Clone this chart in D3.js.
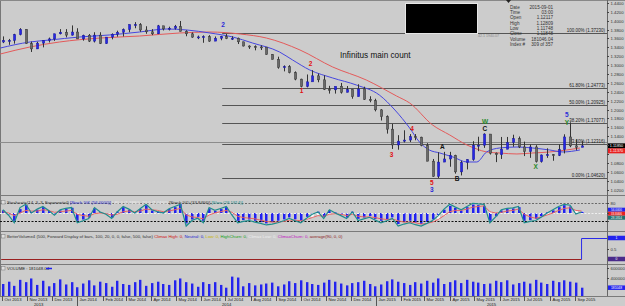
<!DOCTYPE html>
<meta charset="utf-8">
<style>
  body { margin: 0; background: #cccccc; }
  svg { display: block; font-family: "Liberation Sans", Arial, sans-serif; }
</style>
<svg width="625" height="306"></svg>
<script src="https://d3js.org/d3.v7.min.js"></script>
<script>

// weekly EUR/USD bars, one per week starting Monday firstWeek
var firstWeek = "2013-09-30";
var firstOpen = 1.3520;

var highs = [1.3646,1.3590,1.3705,1.3832,1.3806,1.3530,1.3525,1.3565,1.3620,1.3705,1.3810,1.3810,1.3893,1.3830,
  1.3685,1.3700,1.3740,1.3740,1.3620,1.3715,1.3775,1.3825,1.3915,1.3967,1.3945,1.3875,1.3810,1.3905,1.3865,1.3865,1.3905,
  1.3993,1.3785,1.3735,1.3665,1.3670,1.3675,1.3645,1.3660,1.3700,1.3650,1.3620,1.3525,1.3445,1.3445,1.3445,1.3395,1.3245,
  1.3190,1.2995,1.3000,1.2860,1.2695,1.2790,1.2887,1.2810,1.2770,1.2535,1.2510,1.2600,1.2530,1.2455,1.2570,1.2515,1.2300,1.2245,
  1.2010,1.1870,1.1680,1.1425,1.1535,1.1450,1.1450,1.1390,1.1245,1.0890,1.1040,1.1050,1.1050,1.0985,1.0850,1.0885,1.1290,
  1.1390,1.1467,1.1440,1.1035,1.1385,1.1385,1.1435,1.1395,1.1280,1.1215,1.1200,1.0990,1.1130,1.1000,1.1215,1.1445,1.1714,1.1330,1.1290];
var lows = [1.3495,1.3457,1.3483,1.3670,1.3480,1.3296,1.3365,1.3400,1.3510,1.3545,1.3690,1.3625,1.3665,1.3590,
  1.3550,1.3520,1.3510,1.3475,1.3480,1.3580,1.3640,1.3645,1.3740,1.3830,1.3750,1.3705,1.3675,1.3700,1.3780,1.3780,1.3800,
  1.3760,1.3650,1.3615,1.3585,1.3503,1.3525,1.3545,1.3560,1.3585,1.3565,1.3475,1.3420,1.3365,1.3333,1.3340,1.3235,1.3130,
  1.2920,1.2860,1.2815,1.2660,1.2500,1.2500,1.2660,1.2615,1.2440,1.2360,1.2360,1.2360,1.2390,1.2245,1.2300,1.2220,1.2165,1.1960,
  1.1755,1.1460,1.1115,1.1098,1.1260,1.1270,1.1310,1.1175,1.0840,1.0490,1.0462,1.0835,1.0715,1.0560,1.0520,1.0655,1.0850,
  1.1065,1.1140,1.0990,1.0819,1.0890,1.1110,1.1165,1.1135,1.0955,1.0915,1.0810,1.0808,1.0915,1.0850,1.0955,1.1015,1.1155,1.1085,1.1170];
var closes = [1.3555,1.3555,1.3685,1.3803,1.3485,1.3365,1.3495,1.3555,1.3590,1.3705,1.3740,1.3675,1.3745,1.3590,
  1.3670,1.3540,1.3675,1.3485,1.3630,1.3695,1.3740,1.3800,1.3910,1.3910,1.3790,1.3750,1.3705,1.3885,1.3815,1.3830,1.3870,
  1.3760,1.3705,1.3630,1.3635,1.3640,1.3540,1.3605,1.3645,1.3595,1.3605,1.3525,1.3430,1.3415,1.3410,1.3405,1.3240,1.3130,
  1.2950,1.2965,1.2830,1.2685,1.2520,1.2625,1.2760,1.2670,1.2455,1.2445,1.2525,1.2390,1.2450,1.2290,1.2465,1.2230,1.2200,1.1995,
  1.1840,1.1560,1.1205,1.1290,1.1315,1.1390,1.1380,1.1195,1.0840,1.0500,1.0820,1.0890,1.0970,1.0600,1.0810,1.0875,1.1200,
  1.1200,1.1450,1.1020,1.0985,1.1110,1.1260,1.1345,1.1160,1.1055,1.1160,1.0830,1.0980,1.0985,1.0970,1.1100,1.1385,1.1185,1.1150,1.1185];
// weekly volume, thousands
var volumes = [260,310,220,350,300,380,240,330,210,280,360,250,300,190,
  270,340,230,310,280,200,330,260,240,300,350,220,280,310,260,240,340,380,300,270,
  200,300,260,300,240,180,420,400,210,280,230,250,270,290,210,250,320,280,340,300,
  260,240,290,350,310,270,230,280,300,330,260,210,
  250,320,360,310,280,240,300,270,330,290,380,260,300,340,280,350,310,290,260,270,
  330,300,340,250,280,310,270,350,290,260,330,300,340,310,290,180];

// moving averages
var fastDates = ["2013-09-29","2013-11-04","2013-11-28","2014-01-04","2014-02-09","2014-03-18","2014-04-20","2014-05-15",
  "2014-06-12","2014-07-10","2014-08-03","2014-09-05","2014-09-21","2014-10-12","2014-11-09","2014-12-08","2015-01-05",
  "2015-01-24","2015-02-11","2015-02-23","2015-03-07","2015-03-20","2015-04-05","2015-04-22","2015-05-04","2015-05-16",
  "2015-06-01","2015-06-22","2015-07-11","2015-08-01","2015-08-17","2015-09-07"];
var fastVals = [1.3385,1.3520,1.3565,1.3633,1.3678,1.3745,1.3813,1.3790,1.3723,1.3633,1.3498,1.3296,1.3116,1.2891,1.2711,
  1.2553,1.2328,1.1991,1.1586,1.1271,1.1092,1.1024,1.0934,1.0822,1.0822,1.1047,1.1137,1.1159,1.1137,1.1092,1.1047,1.1092];
var slowDates = ["2013-09-29","2013-11-04","2013-12-10","2014-01-29","2014-03-18","2014-05-06","2014-06-12","2014-07-19",
  "2014-08-20","2014-09-30","2014-11-09","2014-12-20","2015-01-26","2015-02-11","2015-03-11","2015-04-01","2015-04-22",
  "2015-05-04","2015-05-16","2015-06-01","2015-06-22","2015-07-11","2015-08-01","2015-08-22","2015-09-07"];
var slowVals = [1.3251,1.3408,1.3520,1.3610,1.3655,1.3723,1.3745,1.3700,1.3610,1.3341,1.2958,1.2666,1.2306,1.2149,1.1654,
  1.1429,1.1204,1.1114,1.1047,1.1024,1.1002,1.1024,1.1047,1.1092,1.1137];

// fibonacci retracement
var fibStart = "2014-06-27", fibLow = 1.0462, fibHigh = 1.3723;
var fibLevels = [0, 23.6, 38.2, 50, 61.8, 100];
var hLinePrice = 1.1272;

var waveLabels = [
  {date: "2014-06-28", price: 1.3905, text: "2", color: "#2b2bd8"},
  {date: "2014-10-02", price: 1.2418, text: "1", color: "#e01010"},
  {date: "2014-10-13", price: 1.3026, text: "2", color: "#e01010"},
  {date: "2015-01-20", price: 1.0979, text: "3", color: "#e01010"},
  {date: "2015-02-14", price: 1.1560, text: "4", color: "#e01010"},
  {date: "2015-03-10", price: 1.0349, text: "5", color: "#e01010"},
  {date: "2015-03-10", price: 1.0192, text: "3", color: "#2b2bd8"},
  {date: "2015-03-23", price: 1.1159, text: "A", color: "#111111"},
  {date: "2015-04-10", price: 1.0452, text: "B", color: "#111111"},
  {date: "2015-05-14", price: 1.1725, text: "W", color: "#2a8a2a"},
  {date: "2015-05-14", price: 1.1565, text: "C", color: "#111111"},
  {date: "2015-07-15", price: 1.0709, text: "X", color: "#2a8a2a"},
  {date: "2015-08-22", price: 1.1890, text: "5", color: "#2b2bd8"},
  {date: "2015-08-22", price: 1.1715, text: "Y", color: "#2a8a2a"}
];

// stochastic-style oscillator, weekly
var oscTeal = [25,-17,-75,42,67,0,30,50,20,-17, 25,35,42,-75,-60,-42,42,8,-10,-42, 10,50,30,0,35,67,25,10,0,33,
  50,67,-100,-58,-40,-75,42,20,35,50, -17,-75,-65,-58,-70,-80,-92,-85,-75,-60, -42,-60,-75,-40,-10,8,-42,25,0,-20,
  -42,8,-58,-45,-33,-55,-75,-60,-42,-100, -85,-75,-90,-100,-80,-58,-20,30,67,45, 25,50,75,70,67,-75,-30,25,35,40,
  50,-75,-65,-58,-30,0,25,50,67,60, -8,8];
var oscRed = [10,0,-20,0,20,15,15,25,20,5, 10,15,20,-10,-20,-25,-5,0,-5,-15, -10,10,15,10,15,30,25,20,10,15,
  25,35,-15,-30,-35,-45,-15,0,10,20, 5,-25,-35,-40,-45,-55,-65,-70,-70,-65, -55,-55,-60,-50,-35,-20,-25,-10,-5,-10,
  -20,-10,-25,-30,-30,-35,-45,-50,-45,-60, -70,-70,-75,-85,-80,-70,-50,-20,10,20, 20,30,45,50,55,10,0,5,15,20,
  30,-10,-30,-40,-30,-15,0,20,35,40, 20,15];
var oscHist = [20,-10,-60,30,60,10,25,45,15,-10, 20,30,40,-60,-50,-35,35,5,-5,-35, 10,45,25,5,30,60,20,10,5,30,
  45,70,-80,-50,-30,-60,35,15,30,45, -10,-60,-55,-50,-60,-70,-80,-70,-60,-50, -35,-50,-60,-30,-5,10,-30,20,5,-15,
  -35,10,-45,-35,-25,-45,-60,-50,-35,-85, -70,-60,-75,-85,-70,-50,-15,25,55,40, 20,45,65,60,55,-60,-25,20,30,35,
  45,-60,-55,-45,-25,5,20,45,60,50, -5,10];
var oscLevels = [80, 0, -60];

// better volume panel
var bvDates = ["2013-09-30", "2015-09-09"], bvAverage = [0, 0];
var bvSpikeDates = ["2015-09-09", "2015-09-09", "2015-10-12"], bvSpike = [0, 1, 1];

var dataBoxLabels = ["Date", "Time", "Open", "High", "Low", "Close", "Volume", "Index #"];
var dataBoxValues = ["2015-09-01", "03:00", "1.12117", "1.12809", "1.11748", "1.11848", "181046.04", "309 of 357"];


var svg = d3.select("svg"),
    width = +svg.attr("width"),
    height = +svg.attr("height");

var parse = d3.utcParse("%Y-%m-%d");
var plotR = 607;
var mainTop = 1, mainBot = 195, oscTop = 196, oscBot = 231, bvTop = 232, bvBot = 264, volTop = 265, volBot = 296;

var weeks = d3.utcMonday.range(parse(firstWeek), d3.utcDay.offset(parse(firstWeek), 7 * closes.length));
var bars = closes.map(function(c, i) {
  return {d: d3.utcDay.offset(weeks[i], 2), o: i ? closes[i - 1] : firstOpen, h: highs[i], l: lows[i], c: c, v: volumes[i]};
});

var x = d3.scaleUtc().domain([parse("2013-10-01"), parse("2015-09-01")]).range([2, 575]);
var y = d3.scaleLinear().domain([1.0192, 1.4465]).range([190, 0]);
var yO = d3.scaleLinear().domain([-100, 100]).range([226, 200]);
var yB = d3.scaleLinear().domain([0, 1]).range([259, 238]);
var yV = d3.scaleLinear().domain([0, 650]).range([volBot, 266]);

svg.append("rect").attr("width", width).attr("height", height).attr("fill", "#cccccc");

var defs = svg.append("defs");
[["cMain", mainTop, mainBot], ["cOsc", oscTop, oscBot], ["cBv", bvTop, bvBot], ["cVol", volTop, volBot]].forEach(function(c) {
  defs.append("clipPath").attr("id", c[0]).append("rect")
    .attr("x", 0).attr("y", c[1]).attr("width", plotR).attr("height", c[2] - c[1]);
});

// panel frames
svg.append("line").attr("x1", 0.5).attr("x2", 0.5).attr("y1", 0).attr("y2", volBot).attr("stroke", "#777");
svg.append("line").attr("x1", 0).attr("x2", width).attr("y1", 0.5).attr("y2", 0.5).attr("stroke", "#888");
[mainBot, oscBot, bvBot, volBot].forEach(function(v) {
  svg.append("line").attr("x1", 0).attr("x2", width).attr("y1", v + 0.5).attr("y2", v + 0.5)
    .attr("stroke", "#7a7a7a");
});
svg.append("line").attr("x1", plotR + 0.5).attr("x2", plotR + 0.5).attr("y1", 0).attr("y2", volBot)
  .attr("stroke", "#666");

// ---------- main price panel
var main = svg.append("g").attr("clip-path", "url(#cMain)");

main.append("line").attr("x1", 0).attr("x2", plotR)
  .attr("y1", Math.round(y(hLinePrice)) + 0.5).attr("y2", Math.round(y(hLinePrice)) + 0.5)
  .attr("stroke", "#8c8c8c");

fibLevels.forEach(function(lv) {
  var p = fibLow + (fibHigh - fibLow) * lv / 100;
  var yy = Math.round(y(p)) + 0.5;
  main.append("line").attr("x1", x(parse(fibStart))).attr("x2", plotR).attr("y1", yy).attr("y2", yy)
    .attr("stroke", "#555").attr("stroke-width", 1);
  main.append("text").attr("x", plotR - 2).attr("y", yy - 1.5).attr("text-anchor", "end")
    .attr("font-size", 4.5).attr("fill", "#222")
    .text(d3.format(".2f")(lv) + "% (" + d3.format(".5f")(p) + ")");
});

var maLine = d3.line().curve(d3.curveMonotoneX)
  .x(function(d) { return x(d[0]); }).y(function(d) { return y(d[1]); });
main.append("path").datum(slowDates.map(function(d, i) { return [parse(d), slowVals[i]]; }))
  .attr("d", maLine).attr("fill", "none").attr("stroke", "#e45a5a").attr("stroke-width", 1);
main.append("path").datum(fastDates.map(function(d, i) { return [parse(d), fastVals[i]]; }))
  .attr("d", maLine).attr("fill", "none").attr("stroke", "#4646e0").attr("stroke-width", 1);

var candle = main.selectAll(".bar").data(bars).enter().append("g").attr("class", "bar");
candle.append("line")
  .attr("x1", function(d) { return Math.round(x(d.d)) + 0.5; })
  .attr("x2", function(d) { return Math.round(x(d.d)) + 0.5; })
  .attr("y1", function(d) { return y(d.h); })
  .attr("y2", function(d) { return y(d.l); })
  .attr("stroke", "#333");
candle.append("rect")
  .attr("x", function(d) { return Math.round(x(d.d)) - 0.5; })
  .attr("width", 2.2)
  .attr("y", function(d) { return y(Math.max(d.o, d.c)); })
  .attr("height", function(d) { return Math.max(1, Math.abs(y(d.o) - y(d.c))); })
  .attr("fill", function(d) { return d.c >= d.o ? "#2626e6" : "#6a6a6a"; })
  .attr("stroke", function(d) { return d.c >= d.o ? "#1a1a9a" : "#333"; })
  .attr("stroke-width", 0.5);

main.selectAll(".wave").data(waveLabels).enter().append("text")
  .attr("x", function(d) { return x(parse(d.date)); })
  .attr("y", function(d) { return y(d.price) + 2.3; })
  .attr("text-anchor", "middle").attr("font-size", 6.5).attr("font-weight", "bold")
  .attr("fill", function(d) { return d.color; })
  .text(function(d) { return d.text; });

main.append("text").attr("x", 340).attr("y", 58).attr("font-size", 8.2).attr("fill", "#111")
  .text("Infinitus main count");

// overlay box and data window
svg.append("rect").attr("x", 405.5).attr("y", 3.5).attr("width", 72).attr("height", 30)
  .attr("fill", "#000").attr("stroke", "#e6e6e6");
svg.append("text").attr("x", 478).attr("y", 37).attr("font-size", 3.6).attr("fill", "#8a8a8a").text("42.1 1940.07");
svg.append("path").attr("d", "M506,0 L511,0 L508.5,3 Z").attr("fill", "#222");
dataBoxLabels.forEach(function(l, i) {
  var yy = 8.5 + i * 5.35;
  svg.append("text").attr("x", 510).attr("y", yy).attr("font-size", 4.6).attr("fill", "#333").text(l);
  svg.append("text").attr("x", 553).attr("y", yy).attr("font-size", 4.6).attr("fill", "#333")
    .attr("text-anchor", "end").text(dataBoxValues[i]);
});

// ---------- oscillator panel
var osc = svg.append("g").attr("clip-path", "url(#cOsc)");
osc.selectAll(".sig").data(oscRed).enter().append("rect")
  .attr("x", function(d, i) { return Math.round(x(bars[i].d)) - 1; })
  .attr("width", 3)
  .attr("y", function(d) { return Math.min(yO(0), yO(d)); })
  .attr("height", function(d) { return Math.abs(yO(d) - yO(0)); })
  .attr("fill", "#f4f4f4");
osc.selectAll(".hist").data(oscHist).enter().append("rect")
  .attr("x", function(d, i) { return Math.round(x(bars[i].d)) - 1; })
  .attr("width", 2.6)
  .attr("y", function(d) { return Math.min(yO(0), yO(d)); })
  .attr("height", function(d) { return Math.abs(yO(d) - yO(0)); })
  .attr("fill", "#2222ee");
oscLevels.forEach(function(lv, i) {
  osc.append("line").attr("x1", 0).attr("x2", plotR)
    .attr("y1", Math.round(yO(lv)) + 0.5).attr("y2", Math.round(yO(lv)) + 0.5)
    .attr("stroke", ["#6a6a6a", "#f0f0f0", "#111"][i]).attr("stroke-dasharray", "2,1.5");
});
var oscLine = d3.line().x(function(d, i) { return x(bars[i].d); }).y(function(d) { return yO(d); });
osc.append("path").datum(oscRed).attr("d", oscLine).attr("fill", "none").attr("stroke", "#e86464").attr("stroke-width", 1);
osc.append("path").datum(oscTeal).attr("d", oscLine).attr("fill", "none").attr("stroke", "#1f8c8c").attr("stroke-width", 1.2);

// ---------- better volume panel
var bv = svg.append("g").attr("clip-path", "url(#cBv)");
bv.append("path").datum(bvDates.map(function(d, i) { return [parse(d), bvAverage[i]]; }))
  .attr("d", d3.line().x(function(d) { return x(d[0]); }).y(function(d) { return yB(d[1]) + 0.5; }))
  .attr("fill", "none").attr("stroke", "#9a2020").attr("stroke-width", 1);
bv.append("path").datum(bvSpikeDates.map(function(d, i) { return [parse(d), bvSpike[i]]; }))
  .attr("d", d3.line().x(function(d) { return x(d[0]); }).y(function(d) { return yB(d[1]) + 0.5; }))
  .attr("fill", "none").attr("stroke", "#2a2ae8").attr("stroke-width", 1);

// ---------- volume panel
var vol = svg.append("g").attr("clip-path", "url(#cVol)");
vol.selectAll(".vb").data(bars).enter().append("rect")
  .attr("x", function(d) { return Math.round(x(d.d)) - 1; })
  .attr("width", 2.4)
  .attr("y", function(d) { return yV(d.v); })
  .attr("height", function(d) { return yV(0) - yV(d.v); })
  .attr("fill", "#2424ee");

// ---------- panel headers
function header(yy, parts) {
  svg.append("rect").attr("x", 1.5).attr("y", yy - 3.5).attr("width", 3.5).attr("height", 3.5)
    .attr("fill", "#e0e0e0").attr("stroke", "#777").attr("stroke-width", 0.5);
  var t = svg.append("text").attr("x", 7).attr("y", yy).attr("font-size", 4.3);
  parts.forEach(function(p) { t.append("tspan").attr("fill", p[1]).text(p[0]); });
}
header(204, [["Stochastic(14, 3, 3, Exponential) ", "#333"], ["[Stoch %K (56.0000)] ", "#2222cc"],
  ["| 80.0 (1.3880), 20.0 (1.0460) ", "#eeeeee"], ["[Stoch %D (33.8466)] ", "#333"], ["[Slow (28.1814)]", "#1f8c8c"]]);
header(238, [["BetterVolume4 (500, Forward Display of bars, 100, 20, 0, 0, false, 500, false) ", "#333"],
  ["Climax High: 0, ", "#d01010"], ["Neutral: 0, ", "#2222cc"], ["Low: 0, ", "#c8b400"],
  ["HighChurn: 0, ", "#10a010"], ["Climax Low: 0, ", "#eeeeee"], ["ClimaxChurn: 0, ", "#c010c0"],
  ["average(90, 0, 0)", "#8a1a1a"]]);
header(270, [["VOLUME : 181048.04 ", "#222"]]);
svg.append("line").attr("x1", 46).attr("x2", 52).attr("y1", 268.5).attr("y2", 268.5).attr("stroke", "#2222ee").attr("stroke-width", 1.5);

// ---------- right axis: value boxes first, then ticks that do not collide with them
var boxYs = [];
function boxes(list, h) {
  list.sort(function(a, b) { return a.y - b.y; });
  for (var i = 1; i < list.length; i++) if (list[i].y < list[i - 1].y + h) list[i].y = list[i - 1].y + h;
  list.forEach(function(b) {
    boxYs.push([b.y - h / 2 - 2, b.y + h / 2 + 2]);
    svg.append("rect").attr("x", plotR + 1).attr("y", b.y - h / 2).attr("width", 17).attr("height", h).attr("fill", b.fill);
    svg.append("text").attr("x", plotR + 9.5).attr("y", b.y + h * 0.3).attr("text-anchor", "middle")
      .attr("font-size", h * 0.75).attr("fill", b.text).text(b.label);
  });
}
var last = bars[bars.length - 1];
boxes([{y: y(last.c), fill: "#000", text: "#fff", label: d3.format(".5f")(last.c)},
       {y: y(slowVals[slowVals.length - 1]), fill: "#e82020", text: "#fff", label: d3.format(".5f")(slowVals[slowVals.length - 1])}], 5);
boxes([{y: yO(oscHist[oscHist.length - 1]) - 2, fill: "#2222ee", text: "#fff", label: "56.0000"},
       {y: yO(oscRed[oscRed.length - 1]), fill: "#e82020", text: "#fff", label: "33.8466"},
       {y: yO(oscTeal[oscTeal.length - 1]), fill: "#1f7070", text: "#fff", label: "28.1814"}], 4);
boxes([{y: yB(1), fill: "#2222ee", text: "#fff", label: "1"}], 4.5);
boxes([{y: yB(0), fill: "#4a2a8a", text: "#fff", label: "0"}], 4.5);
boxes([{y: yV(last.v), fill: "#2222ee", text: "#fff", label: "181048"}], 4.5);

var ax = svg.append("g").attr("font-size", 4.3).attr("fill", "#333");
function tick(yy, label) {
  ax.append("line").attr("x1", plotR).attr("x2", plotR + 2).attr("y1", yy + 0.5).attr("y2", yy + 0.5).attr("stroke", "#444");
  var hit = boxYs.some(function(b) { return yy > b[0] && yy < b[1]; });
  if (!hit) ax.append("text").attr("x", plotR + 3.5).attr("y", yy + 1.6).text(label);
}
y.ticks(20).forEach(function(t) { if (y(t) > 1 && y(t) < mainBot - 1) tick(Math.round(y(t)), d3.format(".4f")(t)); });
oscLevels.forEach(function(lv) { tick(Math.round(yO(lv)), lv); });
[0.5].forEach(function(v) { tick(Math.round(yB(v)), v); });
[400, 600].forEach(function(v) { tick(Math.round(yV(v)), v * 1000); });

// ---------- date axis
var months = d3.utcMonth.range(parse("2013-10-01"), parse("2015-10-01"));
var dx = svg.append("g").attr("font-size", 4.2).attr("fill", "#222");
months.forEach(function(m) {
  var xx = Math.round(x(m)) + 0.5;
  dx.append("line").attr("x1", xx).attr("x2", xx).attr("y1", volBot).attr("y2", volBot + 5).attr("stroke", "#555");
  dx.append("text").attr("x", xx + 2).attr("y", volBot + 4.5).text(d3.utcFormat("%b %Y")(m));
});
var x0 = x.invert(0), x1 = x.invert(plotR);
[2013, 2014, 2015].forEach(function(yr) {
  var a = new Date(Math.max(Date.UTC(yr, 0, 1), x0)), b = new Date(Math.min(Date.UTC(yr + 1, 0, 1), x1));
  dx.append("text").attr("x", (x(a) + x(b)) / 2).attr("y", 305.5).attr("text-anchor", "middle").text(yr);
  if (yr > 2013) {
    var xx = Math.round(x(new Date(Date.UTC(yr, 0, 1)))) + 0.5;
    dx.append("line").attr("x1", xx).attr("x2", xx).attr("y1", volBot + 5).attr("y2", height).attr("stroke", "#555");
  }
});

</script>
